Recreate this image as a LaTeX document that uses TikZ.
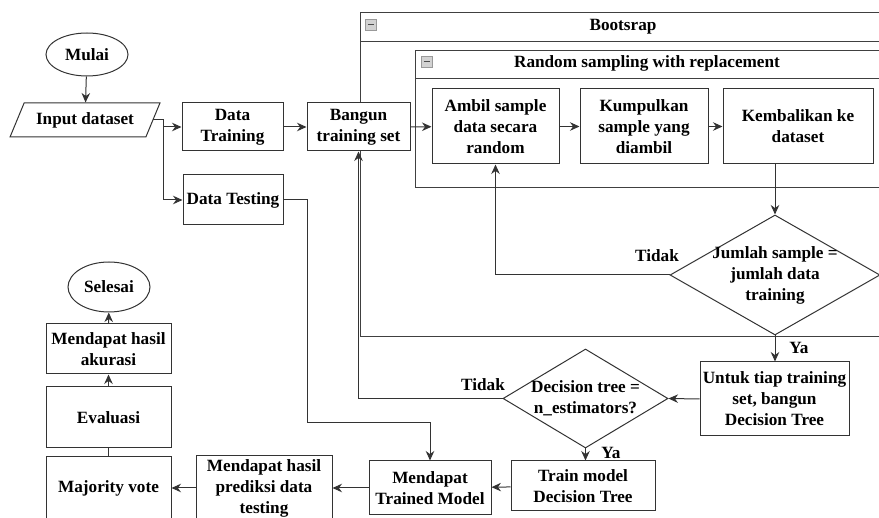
\documentclass[tikz,border=0pt]{standalone}
\usepackage{fontspec}
\setmainfont{Liberation Serif}
\usetikzlibrary{positioning, arrows.meta, shapes.geometric}

\begin{document}
\begin{tikzpicture}[x=1pt, y=-1pt,
    font=\fontsize{17.2}{21}\selectfont\bfseries,
    every node/.style={inner sep=0pt, align=center},
    conn/.style={draw=black!80, line width=1pt},
    arr/.style={conn, -{Stealth[length=9.5pt,width=8.5pt]}},
    box/.style={conn, rectangle, fill=white},
    term/.style={conn, ellipse, fill=white},
    io/.style={conn, trapezium, trapezium left angle=54, trapezium right angle=126,
        trapezium stretches=true, fill=white},
    decision/.style={conn, diamond, fill=white},
    cont/.style={draw=black!75, line width=1pt},
    icon/.style={draw=gray!80, fill=gray!35, line width=0.6pt}]

    \useasboundingbox (0,0) rectangle (879,518);
    \clip (0,0) rectangle (879,518);

    % Containers
    \draw[cont] (900,13) -| (360,337) -- (900,337);
    \draw[cont] (360,42) -- (900,42);
    \node (boot) at (623,27) {Bootsrap};
    \draw[icon] (365,19) rectangle (376,30); \draw[line width=1.6pt, black!70] (367.5,24.5) -- (373.5,24.5);

    \draw[cont] (900,51) -| (415,188) -- (900,188);
    \draw[cont] (415,79) -- (900,79);
    \node (rsamp) at (647,63) {Random sampling with replacement};
    \draw[icon] (421,56) rectangle (432,67); \draw[line width=1.6pt, black!70] (423.5,61.5) -- (429.5,61.5);

    % Start and data split
    \node[term, minimum width=82, minimum height=43] (mulai) at (87,54.5) {Mulai};
    \node[io, minimum width=150, minimum height=34] (input) at (85,120) {Input dataset};
    \node[box, minimum width=101, minimum height=48] (dtrain) at (232.5,127) {Data\\Training};
    \node[box, minimum width=100, minimum height=50] (dtest) at (233,200) {Data Testing};
    \node[box, minimum width=103, minimum height=48] (bangun) at (358.5,127) {Bangun\\training set};

    % Random sampling
    \node[box, minimum width=127, minimum height=75] (ambil) at (495.5,126.5) {Ambil sample\\data secara\\random};
    \node[box, minimum width=128, minimum height=75] (kumpul) at (644,126.5) {Kumpulkan\\sample yang\\diambil};
    \node[box, minimum width=150, minimum height=75] (kembali) at (798,126.5) {Kembalikan ke\\dataset};
    \node[decision, minimum width=210, minimum height=120,
        label={center:{Jumlah sample =\\jumlah data\\training}}] (cek1) at (775,275) {};

    % Decision trees
    \node[box, minimum width=149, minimum height=74] (untuk) at (774.5,399) {Untuk tiap training\\set, bangun\\Decision Tree};
    \node[decision, minimum width=165, minimum height=99,
        label={center:{Decision tree =\\n\_estimators?}}] (cek2) at (585.5,398.5) {};
    \node[box, minimum width=144, minimum height=50] (train) at (583,486) {Train model\\Decision Tree};
    \node[box, minimum width=122, minimum height=54] (trained) at (430,488) {Mendapat\\Trained Model};
    \node[box, minimum width=136, minimum height=64] (prediksi) at (264,488) {Mendapat hasil\\prediksi data\\testing};

    % Result
    \node[box, minimum width=125, minimum height=62] (vote) at (108.5,488) {Majority vote};
    \node[box, minimum width=125, minimum height=61] (eval) at (108.5,417.5) {Evaluasi};
    \node[box, minimum width=125, minimum height=50] (akurasi) at (108.5,349) {Mendapat hasil\\akurasi};
    \node[term, minimum width=82, minimum height=50] (selesai) at (109,287) {Selesai};

    % Labels
    \node (tidak1) at (657,256) {Tidak};
    \node (ya1) at (799,348) {Ya};
    \node (tidak2) at (483,385) {Tidak};
    \node (ya2) at (611,453) {Ya};

    % Connectors
    \coordinate (bend) at (307,423);
    \draw[arr] (mulai) -- (input);
    \draw[arr] (input.east) -- ++(10,0) |- (dtrain.west);
    \draw[arr] (input.east) -- ++(10,0) |- (dtest.west);
    \draw[arr] (dtrain) -- (bangun);
    \draw[arr] (bangun) -- (ambil);
    \draw[arr] (ambil) -- (kumpul);
    \draw[arr] (kumpul) -- (kembali);
    \draw[arr] (kembali.south -| cek1.north) -- (cek1.north);
    \draw[arr] (cek1.west) -| (ambil.south);
    \draw[arr] (cek1.south) -- (cek1.south |- untuk.north);
    \draw[arr] (untuk.west) -- (cek2.east);
    \draw[arr] (cek2.west) -| (bangun.south);
    \draw[arr] (cek2.south) -- (cek2.south |- train.north);
    \draw[arr] (train) -- (trained);
    \draw[arr] (dtest.east) -| (bend) -| (trained.north);
    \draw[arr] (trained) -- (prediksi);
    \draw[arr] (prediksi) -- (vote);
    \draw[conn] (vote) -- (eval);
    \draw[arr] (eval) -- (akurasi);
    \draw[arr] (akurasi) -- (selesai);
\end{tikzpicture}
\end{document}
